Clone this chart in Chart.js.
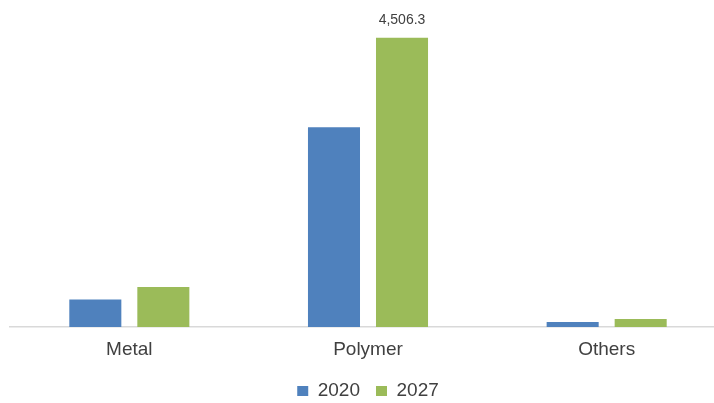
<!DOCTYPE html>
<html><head><meta charset="utf-8">
<script src="https://cdn.jsdelivr.net/npm/chart.js@4/dist/chart.umd.min.js"></script>
<style>
html,body{margin:0;padding:0;background:#fff;overflow:hidden;width:714px;height:403px;}
#wrap{position:absolute;left:0;top:0;width:726px;height:403px;}
</style></head><body>
<div id="wrap"><canvas id="c"></canvas></div>
<script>
const categories = ["Metal", "Polymer", "Others"];
const series2020 = [429, 3111, 78];
const series2027 = [624, 4506.3, 125];
const seriesNames = ["2020", "2027"];
const labelShown = {dataset: 1, index: 1, text: "4,506.3"};

const FONT = '"Liberation Sans", Arial, sans-serif';

const valueLabel = {
  id: 'valueLabel',
  afterDatasetsDraw(chart) {
    const meta = chart.getDatasetMeta(labelShown.dataset);
    const bar = meta.data[labelShown.index];
    const ctx = chart.ctx;
    ctx.save();
    ctx.font = '14px ' + FONT;
    ctx.fillStyle = '#404040';
    ctx.textAlign = 'center';
    ctx.textBaseline = 'alphabetic';
    ctx.fillText(labelShown.text, bar.x, bar.y - 13.5);
    ctx.restore();
  }
};

new Chart(document.getElementById('c'), {
  type: 'bar',
  data: {
    labels: categories,
    datasets: [
      {label: seriesNames[0], data: series2020, backgroundColor: '#4f81bd'},
      {label: seriesNames[1], data: series2027, backgroundColor: '#9bbb59'}
    ]
  },
  options: {
    responsive: true,
    maintainAspectRatio: false,
    animation: false,
    devicePixelRatio: 1,
    categoryPercentage: 0.57,
    barPercentage: 0.765,
    layout: {padding: {left: 10, right: 0, top: 6, bottom: -7.5}},
    scales: {
      x: {
        grid: {display: false, drawTicks: false},
        border: {display: true, color: '#d9d9d9', width: 1.5},
        ticks: {color: '#404040', font: {family: FONT, size: 19}, padding: 11},
        afterFit(scale) { scale.height = 38.5; }
      },
      y: {
        display: false,
        min: 0, max: 5000
      }
    },
    plugins: {
      legend: {
        position: 'bottom',
        labels: {
          color: '#404040',
          font: {family: FONT, size: 19},
          boxWidth: 11, boxHeight: 10,
          padding: 16
        }
      },
      tooltip: {enabled: false}
    }
  },
  plugins: [valueLabel]
});
</script>
</body></html>
